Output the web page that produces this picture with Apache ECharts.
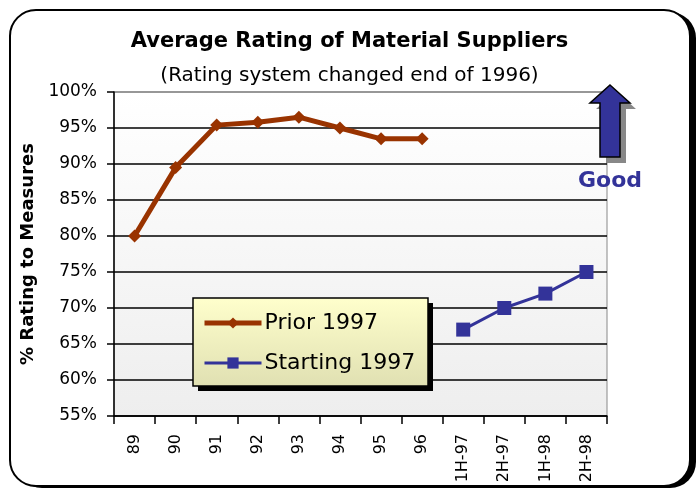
<!DOCTYPE html>
<html>
<head>
<meta charset="utf-8">
<script src="https://cdn.jsdelivr.net/npm/echarts@6/dist/echarts.min.js"></script>
<style>
  html, body { margin: 0; padding: 0; background: #fff; }
  #main { width: 699px; height: 491px; }
</style>
</head>
<body>
<div id="main"></div>
<script>
const categories = ['89', '90', '91', '92', '93', '94', '95', '96', '1H-97', '2H-97', '1H-98', '2H-98'];
const prior1997 = [80, 89.5, 95.4, 95.8, 96.5, 95, 93.5, 93.5, '-', '-', '-', '-'];
const starting1997 = ['-', '-', '-', '-', '-', '-', '-', '-', 67, 70, 72, 75];

const FONT = 'DejaVu Sans, Verdana, sans-serif';

const chart = echarts.init(document.getElementById('main'));

// 分隔线颜色：最上面那条是灰色
const splitColors = ['#000', '#000', '#000', '#000', '#000', '#000', '#000', '#000', '#000', '#888'];

// 箭头形状
const arrowPts = [[610, 85], [630, 103], [620, 103], [620, 157], [600, 157], [600, 103], [590, 103]];

const option = {
  backgroundColor: '#fff',
  animation: false,
  title: [
    {
      text: 'Average Rating of Material Suppliers',
      left: 'center',
      top: 26,
      textStyle: { fontFamily: FONT, fontSize: 21, fontWeight: 'bold', color: '#000' }
    },
    {
      text: '(Rating system changed end of 1996)',
      left: 'center',
      top: 61,
      textStyle: { fontFamily: FONT, fontSize: 20, fontWeight: 'normal', color: '#000' }
    }
  ],
  grid: {
    left: 114,
    top: 92,
    right: 92,
    bottom: 75,
    show: true,
    borderColor: '#888',
    borderWidth: 1,
    backgroundColor: new echarts.graphic.LinearGradient(0, 0, 0, 1, [
      { offset: 0, color: '#ffffff' },
      { offset: 1, color: '#eeeeee' }
    ])
  },
  legend: {
    orient: 'vertical',
    left: 190,
    top: 300,
    padding: [12, 10, 12, 12],
    itemGap: 18,
    itemWidth: 57,
    itemHeight: 14,
    z: 20,
    textStyle: { fontFamily: FONT, fontSize: 22, color: '#000', padding: [0, 0, 0, -2] },
    data: [
      { name: 'Prior 1997', lineStyle: { width: 5 } },
      { name: 'Starting 1997', lineStyle: { width: 3 } }
    ]
  },
  xAxis: {
    type: 'category',
    data: categories,
    boundaryGap: true,
    axisLine: { lineStyle: { color: '#000', width: 1.5 } },
    axisTick: { show: true, interval: 0, length: 8, lineStyle: { color: '#000', width: 1.5 } },
    axisLabel: {
      interval: 0,
      rotate: 90,
      margin: 18,
      fontFamily: FONT,
      fontSize: 16,
      color: '#000'
    }
  },
  yAxis: {
    type: 'value',
    min: 55,
    max: 100,
    interval: 5,
    name: '% Rating to Measures',
    nameLocation: 'middle',
    nameGap: 73,
    nameTextStyle: { fontFamily: FONT, fontSize: 18, fontWeight: 'bold', color: '#000' },
    axisLine: { show: true, lineStyle: { color: '#000', width: 1.5 } },
    axisTick: { show: true, length: 7, lineStyle: { color: '#000', width: 1.5 } },
    axisLabel: {
      formatter: '{value}%',
      margin: 17,
      fontFamily: FONT,
      fontSize: 17,
      color: '#000'
    },
    splitLine: { show: true, lineStyle: { color: splitColors, width: 1.5 } }
  },
  graphic: [
    // 外框阴影
    {
      type: 'rect',
      z: -20,
      shape: { x: 16, y: 12, width: 680, height: 476, r: 26 },
      style: { fill: '#000' }
    },
    // 外框圆角
    {
      type: 'rect',
      z: -19,
      shape: { x: 10, y: 10, width: 680, height: 476, r: 26 },
      style: { fill: '#fff', stroke: '#000', lineWidth: 2 }
    },
    // 图例背景 + 阴影
    {
      type: 'rect',
      z: 10,
      shape: { x: 198, y: 303, width: 235, height: 88 },
      style: { fill: '#000' }
    },
    {
      type: 'rect',
      z: 11,
      shape: { x: 193, y: 298, width: 235, height: 88 },
      style: {
        fill: new echarts.graphic.LinearGradient(0, 0, 0, 1, [
          { offset: 0, color: '#ffffcc' },
          { offset: 1, color: '#e0e0b2' }
        ]),
        stroke: '#000',
        lineWidth: 1.5
      }
    },
    // Good 箭头
    {
      type: 'polygon',
      z: 12,
      shape: { points: arrowPts.map(p => [p[0] + 6, p[1] + 6]) },
      style: { fill: '#888' }
    },
    {
      type: 'polygon',
      z: 13,
      shape: { points: arrowPts },
      style: { fill: '#333399', stroke: '#000', lineWidth: 1.5 }
    },
    {
      type: 'text',
      z: 13,
      x: 610,
      y: 181,
      style: {
        text: 'Good',
        fontFamily: FONT,
        fontSize: 22,
        fontWeight: 'bold',
        fill: '#333399',
        align: 'center',
        verticalAlign: 'middle'
      }
    }
  ],
  series: [
    {
      name: 'Prior 1997',
      type: 'line',
      data: prior1997,
      symbol: 'diamond',
      symbolSize: 13,
      lineStyle: { color: '#993300', width: 5 },
      itemStyle: { color: '#993300' }
    },
    {
      name: 'Starting 1997',
      type: 'line',
      data: starting1997,
      symbol: 'rect',
      symbolSize: 14,
      lineStyle: { color: '#333399', width: 3 },
      itemStyle: { color: '#333399' }
    }
  ]
};

chart.setOption(option);
</script>
</body>
</html>
